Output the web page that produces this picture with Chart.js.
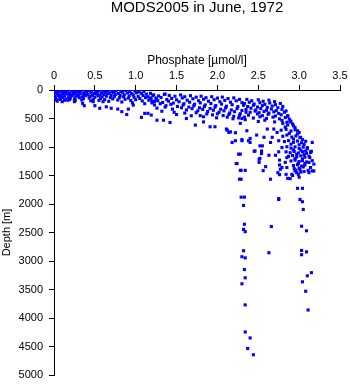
<!DOCTYPE html>
<html>
<head>
<meta charset="utf-8">
<script src="https://cdn.jsdelivr.net/npm/chart.js@4.4.1/dist/chart.umd.min.js"></script>
<style>
  html, body { margin: 0; padding: 0; background: #fff; }
  #wrap { width: 350px; height: 384px; position: relative; }
</style>
</head>
<body>
<div id="wrap"><canvas id="profile"></canvas></div>
<script>
var title = 'MODS2005 in June, 1972';
var xTitle = 'Phosphate [\u00b5mol/l]';
var yTitle = 'Depth [m]';
var xTicks = [0, 0.5, 1, 1.5, 2, 2.5, 3, 3.5];
var yTicks = [0, 500, 1000, 1500, 2000, 2500, 3000, 3500, 4000, 4500, 5000];

// [phosphate, depth], grouped by layer
var surfaceLayer = [
  [0.01,12],[0.05,22],[0.09,8],[0.13,26],[0.17,14],[0.21,5],[0.25,20],[0.29,30],[0.33,10],[0.38,24],[0.42,6],[0.46,18],
  [0.51,28],[0.55,12],[0.6,21],[0.66,9],[0.71,25],[0.76,16],[0.82,30],[0.88,11],[0.93,27],[0.99,19],[1.04,33],[1.1,24],
  [0.02,48],[0.06,37],[0.1,55],[0.14,42],[0.19,60],[0.23,39],[0.27,52],[0.31,44],[0.36,58],[0.4,36],[0.45,50],[0.49,62],
  [0.53,41],[0.58,54],[0.63,38],[0.68,57],[0.73,46],[0.79,63],[0.84,40],[0.9,52],[0.95,66],[1.01,49],[1.07,60],[1.13,72],[1.18,58],
  [0.0,82],[0.04,70],[0.08,91],[0.12,76],[0.16,66],[0.2,88],[0.24,73],[0.28,94],[0.32,68],[0.37,85],[0.41,77],[0.47,95],[0.52,71],
  [0.56,89],[0.61,80],[0.65,67],[0.7,92],[0.75,78],[0.81,98],[0.86,84],[0.92,104],[0.97,88],[1.03,112],[1.09,96],[1.15,118],[1.21,100],
  [0.01,110],[0.05,98],[0.09,122],[0.13,104],[0.18,116],[0.22,100],[0.26,125],[0.3,107],[0.35,119],[0.39,99],[0.44,113],[0.5,127],
  [0.54,103],[0.59,121],[0.64,109],[0.69,131],[0.74,115],[0.8,136],[0.85,120],[0.91,142],[0.98,128],[1.05,150],[1.12,134],[1.19,158],[1.25,140],
  [0.02,138],[0.07,150],[0.11,132],[0.15,156],[0.2,144],[0.25,160],[0.31,135],[0.36,152],[0.43,141],[0.48,163],[0.57,148],[0.62,170],
  [0.72,155],[0.78,176],[0.87,162],[0.94,185],[1.0,170],[1.08,192],[1.16,178],[1.23,200],
  [0.03,172],[0.08,165],[0.13,180],[0.19,168],[0.26,185],[0.34,175],[0.45,190],[0.55,182],[0.67,198],[0.83,210],[0.96,225],[1.11,240],[1.2,226],
  [0.04,195],[0.1,205],[0.17,180],[0.25,205],[0.35,235],[0.37,275],[0.48,205],[0.5,275],[0.56,320],[0.6,205],[0.64,295],
  [0.7,320],[0.78,335],[0.83,380],[0.89,430],[0.91,335],[0.97,265],[1.07,480],[1.11,410],[1.15,410],[0.72,5]
];

var upperBand = [
  [1.22,85],[1.28,104],[1.35,78],[1.41,96],[1.48,110],[1.55,88],[1.6,118],[1.67,100],[1.74,126],[1.8,108],[1.86,135],
  [1.93,118],[2.0,142],[2.06,125],[2.13,150],[2.2,138],[2.27,165],[1.36,70],
  [1.18,140],[1.25,158],[1.31,132],[1.38,166],[1.44,148],[1.5,172],[1.57,140],[1.63,180],[1.7,155],[1.77,188],[1.83,162],
  [1.89,196],[1.96,170],[2.03,205],[2.09,182],[2.16,214],[2.23,190],[2.3,222],
  [1.2,205],[1.27,188],[1.33,218],[1.4,196],[1.46,230],[1.53,206],[1.59,240],[1.66,214],[1.72,250],[1.79,226],[1.85,262],
  [1.92,238],[1.98,272],[2.05,246],[2.11,284],[2.18,258],[2.25,292],[2.32,268],
  [1.23,262],[1.3,240],[1.37,275],[1.43,252],[1.51,288],[1.58,265],[1.65,300],[1.71,278],[1.78,312],[1.84,290],[1.91,325],
  [1.97,302],[2.04,338],[2.1,314],[2.17,350],[2.24,326],[2.3,360],
  [1.26,318],[1.36,300],[1.45,335],[1.56,312],[1.62,350],[1.69,328],[1.76,365],[1.82,340],[1.88,378],[1.95,355],[2.02,390],
  [2.08,366],[2.15,404],[2.21,380],[2.28,415],[2.35,392],
  [1.32,372],[1.47,390],[1.6,405],[1.74,398],[1.87,420],[1.94,436],[2.0,418],[2.07,448],[2.14,430],[2.2,462],[2.27,445],[2.33,475],
  [1.5,430],[1.68,452],[1.83,470],[1.99,488],[2.12,476],[2.19,505],[2.26,490],[2.34,520],
  [1.26,530],[1.34,530],[1.42,570],[1.19,440],[1.73,615],[1.83,560],[1.91,645],[1.97,645],[2.12,705],[2.16,735],[2.22,750],
  [2.28,585],[2.3,500],[1.62,500],[1.79,450],[2.11,685],[2.14,745],[2.18,920],[2.22,890],[2.3,890],[2.38,890],[2.4,850],
  [2.26,1125],[2.23,1290],[2.28,1125],[2.55,980]
];

var bendLayer = [
  [2.36,165],[2.42,190],[2.5,172],[2.56,198],[2.63,178],[2.7,205],
  [2.33,238],[2.39,215],[2.45,246],[2.52,222],[2.58,252],[2.64,228],[2.71,258],[2.77,236],
  [2.37,290],[2.44,268],[2.49,298],[2.55,274],[2.61,305],[2.67,282],[2.74,310],[2.8,288],
  [2.35,342],[2.41,320],[2.47,350],[2.53,326],[2.6,356],[2.66,334],[2.72,362],[2.79,340],[2.84,368],
  [2.4,392],[2.46,370],[2.51,398],[2.57,376],[2.63,404],[2.69,382],[2.75,410],[2.82,390],
  [2.38,442],[2.49,420],[2.55,450],[2.62,426],[2.71,456],[2.78,434],[2.86,462],
  [2.44,492],[2.52,470],[2.6,500],[2.68,476],[2.76,506],[2.83,484],[2.88,512],
  [2.5,552],[2.58,530],[2.7,560],[2.79,536],[2.85,566],[2.9,545],
  [2.86,450],[2.89,560],[2.93,630],[2.98,715],[3.0,745],[3.02,830],
  [2.36,715],[2.3,870],[2.4,920],[2.46,1070],[2.52,980],[2.54,1070],[2.48,790],[2.57,830],[2.65,920],[2.67,830],
  [2.69,685],[2.61,685],[2.73,745],[2.75,890],[2.51,1215]
];

var coreLayer = [
  [2.8,585],[2.86,615],[2.92,595],[2.83,650],[2.95,660],
  [2.78,705],[2.84,690],[2.9,720],[2.95,698],[2.88,760],[2.98,770],
  [2.8,812],[2.85,790],[2.91,825],[2.96,805],[3.01,835],[2.93,860],[3.04,870],
  [2.82,905],[2.87,888],[2.93,918],[2.98,895],[3.03,925],[3.08,900],[2.9,950],[3.0,960],[3.06,955],
  [2.79,1010],[2.85,995],[2.9,1020],[2.95,998],[3.0,1025],[3.05,1002],[3.1,1030],[2.93,1050],[3.02,1055],
  [2.84,1085],[2.89,1100],[2.94,1078],[2.99,1105],[3.04,1082],[3.09,1110],[3.14,1088],[2.97,1130],[3.06,1135],
  [2.87,1165],[2.92,1150],[2.97,1175],[3.02,1155],[3.07,1180],[3.12,1160],[2.95,1205],[3.04,1210],
  [2.9,1245],[2.95,1230],[3.0,1255],[3.04,1238],[3.09,1262],[3.16,1240],[2.99,1285],[3.07,1290],
  [2.93,1325],[2.98,1310],[3.03,1335],[3.07,1318],[3.0,1370],[2.94,1380],
  [2.96,1405],[3.01,1395],[3.11,1410],[3.06,1430],
  [2.92,1500],[3.0,1530],[2.97,1450],[3.05,1350],
  [2.45,1075],[2.54,1115],[2.63,1145],[2.71,1145],[2.52,1200],[2.51,1270],[2.59,1345],[2.56,1415],
  [2.29,1410],[2.34,1410],[2.29,1565],[2.65,1565],[2.75,1085],[2.76,1230],[2.76,1315],[2.79,1360],
  [2.74,1450],[2.76,1485],[2.84,1480],[2.86,1550],[2.89,1555],[2.91,1480],[2.95,1420],[2.99,1480],
  [3.02,1440],[2.85,1360],[2.83,1270],[2.85,1185],[3.12,1450],[3.16,1420],[3.14,1360],[3.18,1300],
  [3.12,1270],[3.13,1185],[3.15,1075],[3.08,1070],[3.1,1010],[3.14,1095],[3.16,920],[3.18,1420],[2.77,1390]
];

var deepPoints = [
  [2.98,1725],[3.04,1725],[3.01,1920],[3.04,1960],[3.05,2095],[2.75,1905],[2.33,1880],[2.29,1880],
  [2.32,2025],[2.27,1565],[2.24,1290],[2.28,1410],[2.75,1920],
  [2.33,2355],[2.32,2445],[2.34,2485],[2.66,2395],[3.03,2390],[3.09,2470],
  [2.32,2820],[2.3,2925],[2.34,2945],[2.63,2855],[3.03,2815],[3.09,2840],[3.03,2890],
  [2.33,3150],[2.34,3295],[2.3,3400],[2.34,3770],[2.34,4245],[2.4,4350],[2.37,4535],[2.44,4645],
  [3.15,3205],[3.1,3260],[3.04,3365],[3.08,3530],[3.11,3860]
];

var samples = surfaceLayer.concat(upperBand, bendLayer, coreLayer, deepPoints).map(function (p) {
  return { x: p[0], y: p[1] };
});

var axisFont = { family: "'Liberation Sans', Arial, sans-serif", size: 11 };

new Chart(document.getElementById('profile').getContext('2d'), {
  type: 'scatter',
  data: {
    datasets: [{
      data: samples,
      pointStyle: 'rect',
      pointRadius: 2.2,
      pointBorderWidth: 0,
      backgroundColor: '#0000ff',
      borderColor: '#0000ff'
    }]
  },
  options: {
    responsive: true,
    maintainAspectRatio: false,
    animation: false,
    layout: { padding: { top: 0, left: 0, right: 10, bottom: 9 } },
    plugins: {
      legend: { display: false },
      tooltip: { enabled: false },
      title: {
        display: true,
        text: title,
        fullSize: false,
        color: '#000',
        font: { family: "'Liberation Sans', Arial, sans-serif", size: 15, weight: 'normal', lineHeight: 1 },
        padding: { top: 0, bottom: 0 }
      }
    },
    scales: {
      x: {
        type: 'linear',
        position: 'top',
        min: 0,
        max: 3.5,
        afterBuildTicks: function (scale) {
          scale.ticks = xTicks.map(function (v) { return { value: v }; });
        },
        afterFit: function (scale) {
          scale.height = 75;
          scale.paddingLeft = 0;
          scale.paddingRight = 0;
        },
        ticks: { color: '#000', font: axisFont, padding: 2, maxRotation: 0 },
        grid: { drawOnChartArea: false, drawTicks: true, tickLength: 5, color: '#000', lineWidth: 1 },
        border: { display: true, color: '#000', width: 1 },
        title: {
          display: true,
          text: xTitle,
          color: '#000',
          font: { family: "'Liberation Sans', Arial, sans-serif", size: 12 },
          padding: { top: 38, bottom: 0 }
        }
      },
      y: {
        type: 'linear',
        position: 'left',
        reverse: true,
        min: 0,
        max: 5000,
        afterBuildTicks: function (scale) {
          scale.ticks = yTicks.map(function (v) { return { value: v }; });
        },
        afterFit: function (scale) {
          scale.width = 54;
          scale.paddingTop = 0;
          scale.paddingBottom = 0;
        },
        ticks: {
          color: '#000',
          font: axisFont,
          padding: 6,
          callback: function (v) { return String(v); }
        },
        grid: { drawOnChartArea: false, drawTicks: true, tickLength: 5, color: '#000', lineWidth: 1 },
        border: { display: true, color: '#000', width: 1 },
        title: {
          display: true,
          text: yTitle,
          color: '#000',
          font: { family: "'Liberation Sans', Arial, sans-serif", size: 11, lineHeight: 1.2 },
          padding: { top: 0, bottom: 0 }
        }
      }
    }
  }
});
</script>
</body>
</html>
